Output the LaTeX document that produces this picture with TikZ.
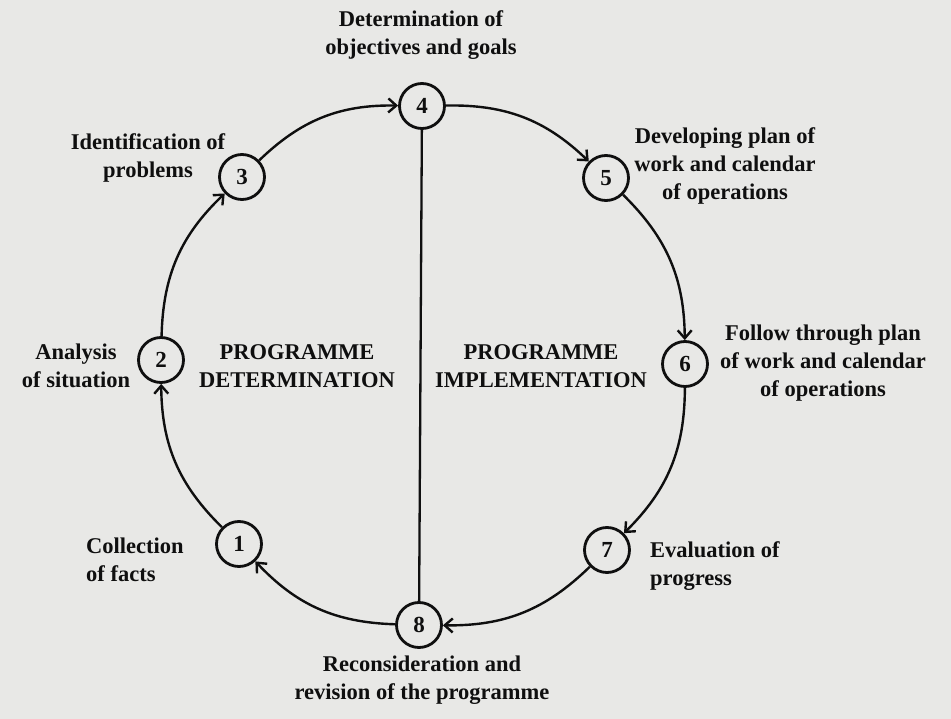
\documentclass[tikz,border=0pt]{standalone}
\usepackage{fontspec}
\setmainfont{Liberation Serif}
\usetikzlibrary{arrows.meta}
\definecolor{paper}{RGB}{232,232,230}
\definecolor{ink}{RGB}{15,15,15}
\begin{document}
\begin{tikzpicture}[x=1pt,y=-1pt,
  numnode/.style={circle,draw=ink,line width=2.8pt,minimum size=45pt,inner sep=0pt,
    font=\fontsize{23}{23}\selectfont\bfseries,text=ink},
  lbl/.style={align=center,inner sep=0pt,text=ink,
    font=\fontsize{22.5}{28}\selectfont\bfseries},
  lbll/.style={lbl,align=left},
  flow/.style={draw=ink,line width=2.4pt,-{Straight Barb[length=8pt,width=14pt]}},
  cycarc/.style={flow,bend left=22.5}]
\fill[paper] (0,0) rectangle (951,719);
\useasboundingbox (0,0) rectangle (951,719);

\node[numnode] (n4) at (422,106) {4};
\node[numnode] (n3) at (242,177) {3};
\node[numnode] (n5) at (606,178) {5};
\node[numnode] (n2) at (161,360) {2};
\node[numnode] (n6) at (685,364) {6};
\node[numnode] (n1) at (239,544) {1};
\node[numnode] (n7) at (607,550) {7};
\node[numnode] (n8) at (419,625) {8};

\draw[cycarc] (n1) to (n2);
\draw[cycarc] (n2) to (n3);
\draw[cycarc] (n3) to (n4);
\draw[cycarc] (n4) to (n5);
\draw[cycarc] (n5) to (n6);
\draw[cycarc] (n6) to (n7);
\draw[cycarc] (n7) to (n8);
\draw[cycarc] (n8) to (n1);
\draw[draw=ink,line width=2.3pt] (n4) -- (n8);

\node[lbl] (t4) at (421,35) {Determination of\\objectives and goals};
\node[lbl] (t3) at (148,158) {Identification of\\problems};
\node[lbl] (t5) at (725,166) {Developing plan of\\work and calendar\\of operations};
\node[lbl] (t6) at (823,363) {Follow through plan\\of work and calendar\\of operations};
\node[lbl] (t2) at (76,366) {Analysis\\of situation};
\node[lbl] (pd) at (297,366) {PROGRAMME\\DETERMINATION};
\node[lbl] (pi) at (541,366) {PROGRAMME\\IMPLEMENTATION};
\node[lbll,anchor=west] (t1) at (86,560) {Collection\\of facts};
\node[lbll,anchor=west] (t7) at (650,566) {Evaluation of\\progress};
\node[lbl] (t8) at (422,680) {Reconsideration and\\revision of the programme};
\end{tikzpicture}
\end{document}
